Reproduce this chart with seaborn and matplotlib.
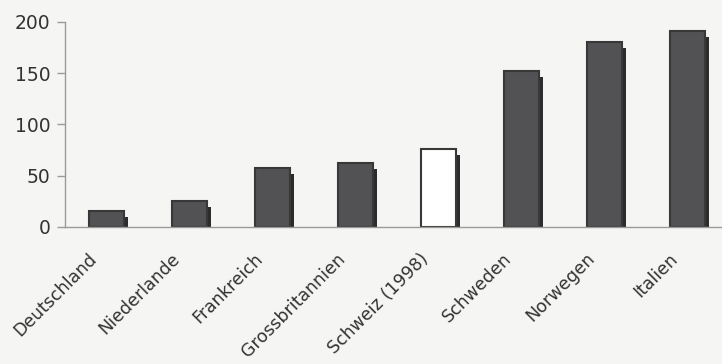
import matplotlib
matplotlib.use('Agg')
import matplotlib.pyplot as plt
from matplotlib.transforms import ScaledTranslation
import seaborn as sns
import pandas as pd

# values
countries = ['Deutschland', 'Niederlande', 'Frankreich', 'Grossbritannien',
             'Schweiz (1998)', 'Schweden', 'Norwegen', 'Italien']
values = [15.5, 25, 57.5, 62, 76, 152.5, 180, 191]
highlight = 'Schweiz (1998)'

df = pd.DataFrame({'land': countries, 'wert': values})

bg = '#f5f5f3'
bar_col = '#525254'
edge_col = '#383838'
shadow_col = '#2c2c2c'

sns.set_style('white')
plt.rcParams['font.family'] = ['DejaVu Sans']

fig = plt.figure(figsize=(7.22, 3.64), dpi=100, facecolor=bg)
ax = fig.add_axes([0.09, 0.377, 0.92, 0.563])
ax.set_facecolor(bg)

# shadow bars first, shifted right/down (clipped at the axis)
sns.barplot(data=df, x='land', y='wert', color=shadow_col, width=0.42,
            saturation=1, ax=ax)
n = len(countries)
shift = ScaledTranslation(4 / 100, -6 / 100, fig.dpi_scale_trans)
for p in ax.patches[:n]:
    p.set_transform(ax.transData + shift)
    p.set_linewidth(0)

# main bars
sns.barplot(data=df, x='land', y='wert', color=bar_col, width=0.42,
            saturation=1, edgecolor=edge_col, linewidth=1.5, ax=ax)
for p, c in zip(ax.patches[n:], countries):
    if c == highlight:
        p.set_facecolor('white')

ax.set_ylim(0, 200)
ax.set_xlim(-0.5, 7.5)
ax.set_yticks([0, 50, 100, 150, 200])
ax.set_xlabel('')
ax.set_ylabel('')
for s in ['top', 'right']:
    ax.spines[s].set_visible(False)
for s in ['left', 'bottom']:
    ax.spines[s].set_color('#9a9a9a')
    ax.spines[s].set_linewidth(1)

ax.tick_params(axis='y', which='both', left=True, length=6, width=1,
               color='#9a9a9a', labelsize=13.5, labelcolor='#333333', pad=4.5)
ax.tick_params(axis='x', bottom=False, labelsize=12.5, labelcolor='#333333')
ax.set_xticks(range(n))
ax.set_xticklabels(countries, rotation=45, ha='right', rotation_mode='anchor')
lab_shift = ScaledTranslation(-0.19, -0.13, fig.dpi_scale_trans)
for t in ax.get_xticklabels():
    t.set_transform(t.get_transform() + lab_shift)

fig.savefig('out.png', dpi=100, facecolor=bg)
